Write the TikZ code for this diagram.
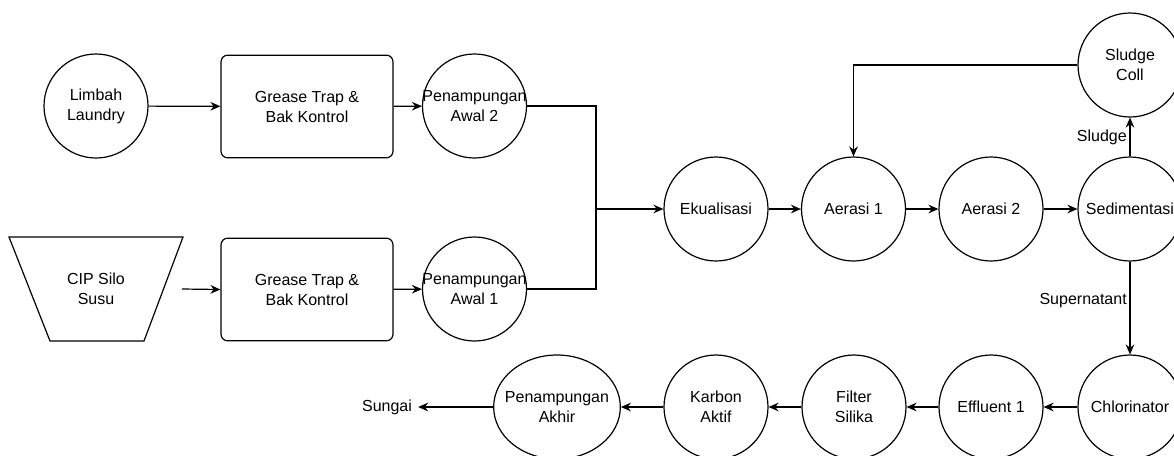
\documentclass[tikz,border=0pt]{standalone}
\usepackage{fontspec}
\setmainfont{Liberation Sans}
\usetikzlibrary{arrows.meta,shapes.geometric}

\tikzset{
  unit/.style={circle,draw,line width=0.9pt,minimum size=78pt,inner sep=0pt,align=center},
  trap/.style={rectangle,draw,rounded corners=5pt,line width=0.9pt,minimum width=129pt,minimum height=77pt,align=center},
  flow/.style={->,line width=0.9pt},
  txt/.style={align=center}
}

\begin{document}
\begin{tikzpicture}[x=0.75pt,y=-0.75pt,>={Stealth[length=7.5pt,width=6.5pt,inset=2.5pt]},font=\fontsize{12}{15}\selectfont]
        \useasboundingbox (0,0) rectangle (1174,455);

        % sources
        \node[unit] (laundry) at (96,106) {Limbah\\Laundry};
        \draw[line width=0.9pt] (9,237) -- (183,237) -- (144,341) -- (50,341) -- cycle;
        \node[txt] (cip) at (96,289) {CIP Silo\\Susu};
        \coordinate (cipout) at (182,289);

        % grease traps
        \node[trap] (trap2) at (307,106.5) {Grease Trap \&\\Bak Kontrol};
        \node[trap] (trap1) at (307,289.5) {Grease Trap \&\\Bak Kontrol};

        % first tanks
        \node[unit,label={[txt]center:Penampungan\\Awal 2}] (pa2) at (474.5,106) {};
        \node[unit,label={[txt]center:Penampungan\\Awal 1}] (pa1) at (474.5,289) {};
        \coordinate (join) at (596,209);

        % main line
        \node[unit] (ekual) at (716,209) {Ekualisasi};
        \node[unit] (aerasi1) at (853.5,209) {Aerasi 1};
        \node[unit] (aerasi2) at (991,209) {Aerasi 2};
        \node[unit] (sedimen) at (1130,209) {Sedimentasi};
        \node[unit] (sludge) at (1130,65) {Sludge\\Coll};

        %% bottom line
        \node[unit] (chlor) at (1130,407) {Chlorinator};
        \node[unit] (effluent) at (991,407) {Effluent 1};
        \node[unit] (silika) at (854,407) {Filter\\Silika};
        \node[unit] (karbon) at (716,407) {Karbon\\Aktif};
        \node[ellipse,draw,line width=0.9pt,minimum width=95pt,minimum height=78pt,inner sep=0pt,label={[txt]center:Penampungan\\Akhir}] (akhir) at (557,407) {};
        \node[inner sep=4.5pt] (sungai) at (387,407) {Sungai};

        % arrows
        \draw[flow] (laundry) -- (trap2);
        \draw[flow] (cipout) -- (trap1.west);
        \draw[flow] (trap2) -- (pa2);
        \draw[flow] (trap1) -- (pa1);
        \draw[line width=0.9pt] (pa2.east) -| (join);
        \draw[line width=0.9pt] (pa1.east) -| (join);
        \draw[flow] (join) -- (ekual);
        \draw[flow] (ekual) -- (aerasi1);
        \draw[flow] (aerasi1) -- (aerasi2);
        \draw[flow] (aerasi2) -- (sedimen);
        \draw[flow] (sedimen) -- node[left,inner sep=2pt] {Sludge} (sludge);
        \draw[flow] (sludge.west) -| (aerasi1.north);
        \draw[flow] (sedimen) -- node[left,inner sep=2pt,pos=0.42] {Supernatant} (chlor);
        \draw[flow] (chlor) -- (effluent);
        \draw[flow] (effluent) -- (silika);
        \draw[flow] (silika) -- (karbon);
        \draw[flow] (karbon) -- (akhir);
        \draw[flow] (akhir) -- (sungai);
\end{tikzpicture}
\end{document}
